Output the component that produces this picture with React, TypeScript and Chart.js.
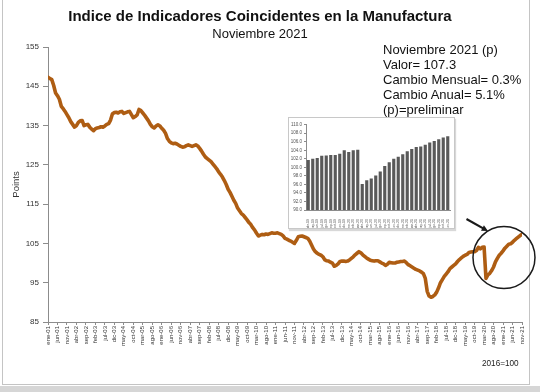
import React, { useEffect, useRef } from 'react';
import { Chart, registerables } from 'chart.js';

Chart.register(...registerables);

const FONT = '"Liberation Sans", Arial, Helvetica, sans-serif';
Chart.defaults.font.family = FONT;

const MONTHS = ['ene', 'feb', 'mar', 'abr', 'may', 'jun', 'jul', 'ago', 'sep', 'oct', 'nov', 'dic'];
const YEARS = ['01', '02', '03', '04', '05', '06', '07', '08', '09', '10', '11', '12', '13', '14', '15', '16', '17', '18', '19', '20', '21'];

const Y2001 = [147.3, 147.0, 146.7, 145.2, 143.3, 142.6, 141.7, 139.9, 139.3, 138.6, 137.8, 137.0];
const Y2002 = [136.0, 135.3, 134.6, 135.0, 135.8, 136.2, 136.3, 135.0, 135.2, 135.3, 134.6, 134.1];
const Y2003 = [133.7, 134.2, 134.4, 134.5, 134.7, 134.6, 134.9, 135.3, 135.5, 136.4, 138.0, 138.3];
const Y2004 = [138.4, 138.2, 138.5, 138.6, 138.1, 138.3, 138.5, 138.6, 137.8, 137.0, 137.3, 137.7];
const Y2005 = [139.1, 138.8, 138.2, 137.6, 136.9, 136.2, 135.3, 134.7, 134.4, 134.9, 135.2, 134.9];
const Y2006 = [134.3, 133.8, 133.0, 131.7, 131.0, 130.6, 130.4, 130.5, 130.3, 130.0, 129.7, 129.5];
const Y2007 = [129.6, 129.9, 130.1, 129.9, 129.7, 129.9, 130.1, 129.8, 129.2, 128.5, 127.7, 127.0];
const Y2008 = [126.6, 126.2, 125.8, 125.2, 124.6, 124.0, 123.2, 122.6, 121.9, 121.0, 120.0, 118.8];
const Y2009 = [118.0, 117.0, 116.0, 115.2, 114.0, 113.3, 112.6, 112.2, 111.6, 111.0, 110.3, 109.8];
const Y2010 = [109.0, 108.4, 107.6, 106.9, 107.1, 107.3, 107.2, 107.4, 107.3, 107.5, 107.7, 107.6];
const Y2011 = [107.6, 107.7, 107.5, 107.3, 106.9, 106.3, 106.1, 105.8, 105.6, 105.3, 105.0, 105.8];
const Y2012 = [106.7, 106.8, 106.9, 106.7, 106.5, 106.3, 105.6, 104.6, 103.6, 102.9, 102.5, 102.2];
const Y2013 = [102.0, 101.6, 100.8, 100.6, 100.5, 100.2, 100.0, 99.2, 99.4, 99.8, 100.4, 100.5];
const Y2014 = [100.5, 100.4, 100.5, 100.8, 101.2, 101.6, 102.1, 102.5, 102.9, 102.6, 102.1, 101.7];
const Y2015 = [101.3, 101.0, 100.7, 100.6, 100.5, 100.6, 100.6, 100.3, 100.0, 99.8, 99.4, 99.7];
const Y2016 = [100.2, 100.1, 100.0, 100.0, 100.2, 100.3, 100.4, 100.4, 100.5, 100.1, 99.6, 99.3];
const Y2017 = [99.0, 98.7, 98.4, 98.2, 98.0, 97.7, 97.3, 96.1, 92.8, 91.6, 91.3, 91.5];
const Y2018 = [91.9, 92.6, 93.7, 95.0, 95.8, 96.6, 97.2, 97.8, 98.6, 99.0, 99.4, 99.8];
const Y2019 = [100.4, 100.9, 101.3, 101.7, 102.0, 102.2, 102.7, 102.8, 102.9, 102.9, 103.2, 104.0];
const Y2020 = [103.6, 104.0, 104.1, 96.1, 97.0, 97.4, 98.1, 99.0, 100.3, 101.2, 102.0, 102.5];
const Y2021 = [103.1, 103.8, 104.3, 104.8, 104.9, 105.3, 105.8, 106.2, 106.6, 107.0, 107.3];

const SERIES = [
  ...Y2001, ...Y2002, ...Y2003, ...Y2004, ...Y2005, ...Y2006, ...Y2007,
  ...Y2008, ...Y2009, ...Y2010, ...Y2011, ...Y2012, ...Y2013, ...Y2014,
  ...Y2015, ...Y2016, ...Y2017, ...Y2018, ...Y2019, ...Y2020, ...Y2021,
];

const LABELS: string[] = [];
YEARS.forEach((y) => MONTHS.forEach((m) => LABELS.push(`${m}-${y}`)));
LABELS.length = SERIES.length;

const Y_MIN = 85;
const Y_MAX = 155;
const Y_STEP = 10;
const X_LABEL_STEP = 5;

const INSET_COUNT = 32;
const INSET_VALUES = SERIES.slice(-INSET_COUNT);
const INSET_LABELS = LABELS.slice(-INSET_COUNT);
const INSET_MIN = 90;
const INSET_MAX = 110;
const INSET_STEP = 2;

const NOTE_LINES = ['Noviembre 2021 (p)', 'Valor= 107.3', 'Cambio Mensual= 0.3%', 'Cambio Anual= 5.1%', '(p)=preliminar'];

// circle highlight anchored in data space (month index, value)
const HIGHLIGHT = { index: 240.5, value: 101.4, radius: 31 };

const LINE_COLOR = '#AE5D13';
const AXIS_COLOR = '#8c8c8c';
const TEXT_COLOR = '#333333';

const highlightPlugin = {
  id: 'highlight',
  afterDraw(chart: any) {
    const { ctx, scales } = chart;
    const cx = scales.x.getPixelForValue(HIGHLIGHT.index);
    const cy = scales.y.getPixelForValue(HIGHLIGHT.value);
    const r = HIGHLIGHT.radius;
    ctx.save();
    ctx.strokeStyle = '#1a1a1a';
    ctx.lineWidth = 1.5;
    ctx.beginPath();
    ctx.arc(cx, cy, r, 0, Math.PI * 2);
    ctx.stroke();
    // arrow pointing to the circle
    const ang = Math.atan2(-26, -15.7);
    const ex = cx + Math.cos(ang) * r;
    const ey = cy + Math.sin(ang) * r;
    const sx = cx - 37.5;
    const sy = cy - 38.5;
    ctx.lineWidth = 2.2;
    ctx.beginPath();
    ctx.moveTo(sx, sy);
    const dir = Math.atan2(ey - sy, ex - sx);
    const bx = ex - Math.cos(dir) * 5;
    const by = ey - Math.sin(dir) * 5;
    ctx.lineTo(bx, by);
    ctx.stroke();
    ctx.fillStyle = '#1a1a1a';
    ctx.beginPath();
    ctx.moveTo(ex, ey);
    ctx.lineTo(ex - Math.cos(dir - 0.45) * 7, ey - Math.sin(dir - 0.45) * 7);
    ctx.lineTo(ex - Math.cos(dir + 0.45) * 7, ey - Math.sin(dir + 0.45) * 7);
    ctx.closePath();
    ctx.fill();
    ctx.restore();
  },
};

function MainChart() {
  const ref = useRef<HTMLCanvasElement>(null);
  useEffect(() => {
    if (!ref.current) return;
    const chart = new Chart(ref.current, {
      type: 'line',
      data: {
        datasets: [
          {
            data: SERIES.map((v, i) => ({ x: i, y: v })),
            borderColor: LINE_COLOR,
            borderWidth: 3.6,
            pointRadius: 0,
            tension: 0,
            fill: false,
            borderJoinStyle: 'round',
            borderCapStyle: 'round',
          },
        ],
      },
      options: {
        animation: false,
        responsive: false,
        maintainAspectRatio: false,
        layout: { padding: { left: 0, top: 47, right: 18, bottom: 0 } },
        plugins: { legend: { display: false }, tooltip: { enabled: false } },
        scales: {
          x: {
            type: 'linear',
            min: 0,
            max: SERIES.length - 1,
            ticks: {
              stepSize: X_LABEL_STEP,
              autoSkip: false,
              minRotation: 90,
              maxRotation: 90,
              padding: 1,
              color: TEXT_COLOR,
              font: { size: 6 },
              callback: (v: any) => LABELS[Math.round(Number(v))] ?? '',
            },
            grid: { drawOnChartArea: false, drawTicks: true, tickLength: 3, color: AXIS_COLOR },
            border: { color: AXIS_COLOR },
            afterFit: (s: any) => {
              s.height = 70;
            },
          },
          y: {
            min: Y_MIN,
            max: Y_MAX,
            ticks: { stepSize: Y_STEP, padding: 4, color: TEXT_COLOR, font: { size: 8 } },
            grid: { drawOnChartArea: false, drawTicks: true, tickLength: 5, color: AXIS_COLOR },
            border: { color: AXIS_COLOR },
            title: {
              display: true,
              text: 'Points',
              color: TEXT_COLOR,
              font: { size: 9.5 },
              padding: { top: 11, bottom: 0 },
            },
            afterFit: (s: any) => {
              s.width = 48;
            },
          },
        },
      },
      plugins: [highlightPlugin],
    });
    return () => chart.destroy();
  }, []);
  return <canvas ref={ref} width={540} height={392} style={{ position: 'absolute', left: 0, top: 0 }} />;
}

function InsetChart() {
  const ref = useRef<HTMLCanvasElement>(null);
  useEffect(() => {
    if (!ref.current) return;
    const chart = new Chart(ref.current, {
      type: 'bar',
      data: {
        labels: INSET_LABELS,
        datasets: [
          {
            data: INSET_VALUES,
            backgroundColor: '#595959',
            barPercentage: 0.7,
            categoryPercentage: 1,
          },
        ],
      },
      options: {
        animation: false,
        responsive: false,
        maintainAspectRatio: false,
        layout: { padding: { left: 0, top: 6.7, right: 4, bottom: 0 } },
        plugins: { legend: { display: false }, tooltip: { enabled: false } },
        scales: {
          x: {
            ticks: {
              autoSkip: false,
              minRotation: 90,
              maxRotation: 90,
              padding: 1,
              color: '#555',
              font: { size: 3.5 },
            },
            grid: { display: false },
            border: { color: AXIS_COLOR },
            afterFit: (s: any) => {
              s.height = 18;
            },
          },
          y: {
            min: INSET_MIN,
            max: INSET_MAX,
            ticks: {
              stepSize: INSET_STEP,
              padding: 2,
              color: '#555',
              font: { size: 4.5 },
              callback: (v: any) => Number(v).toFixed(1),
            },
            grid: { drawOnChartArea: false, drawTicks: true, tickLength: 2, color: AXIS_COLOR },
            border: { color: AXIS_COLOR },
            afterFit: (s: any) => {
              s.width = 17;
            },
          },
        },
      },
    });
    return () => chart.destroy();
  }, []);
  return <canvas ref={ref} width={165} height={110} style={{ display: 'block' }} />;
}

export default function App() {
  return (
    <div style={{ position: 'absolute', left: 0, top: 0, width: 540, height: 392, background: '#fff', overflow: 'hidden', fontFamily: FONT }}>
      <div style={{ position: 'absolute', left: 2, top: -2, width: 528, height: 387, border: '1px solid #c4c4c4', boxSizing: 'border-box' }} />
      <div style={{ position: 'absolute', left: 0, top: 386, width: 540, height: 6, background: '#d6d6d6' }} />
      <MainChart />
      <div style={{ position: 'absolute', left: 0, top: 7, width: 520, textAlign: 'center', fontWeight: 'bold', fontSize: 15, color: '#111', lineHeight: '18px' }}>
        Indice de Indicadores Coincidentes en la Manufactura
      </div>
      <div style={{ position: 'absolute', left: 0, top: 26, width: 520, textAlign: 'center', fontSize: 13, color: '#111', lineHeight: '16px' }}>
        Noviembre 2021
      </div>
      <div style={{ position: 'absolute', left: 383, top: 42, fontSize: 13, color: '#111', lineHeight: '15px', whiteSpace: 'nowrap' }}>
        {NOTE_LINES.map((t) => (
          <div key={t}>{t}</div>
        ))}
      </div>
      <div style={{ position: 'absolute', left: 288, top: 117, width: 167, height: 112, border: '1px solid #c8c8c8', boxSizing: 'border-box', background: '#fff', boxShadow: '1px 2px 1px #d8d8d8' }}>
        <InsetChart />
      </div>
      <div style={{ position: 'absolute', left: 482, top: 359, fontSize: 8.2, color: '#222', whiteSpace: 'nowrap' }}>2016=100</div>
    </div>
  );
}
